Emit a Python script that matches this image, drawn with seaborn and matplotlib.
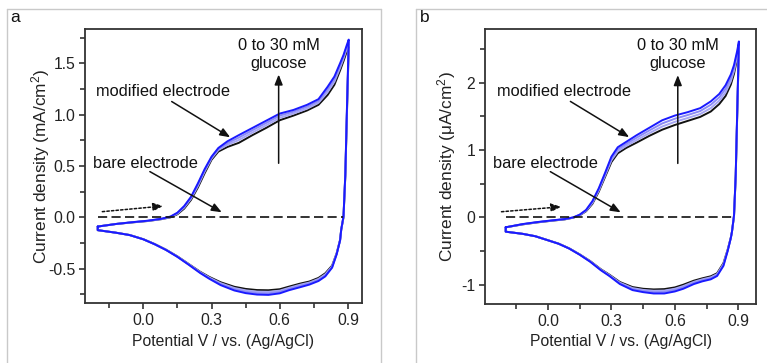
import matplotlib
matplotlib.use("Agg")
import matplotlib.pyplot as plt
from matplotlib.lines import Line2D
from matplotlib.ticker import MultipleLocator, FixedLocator
import seaborn as sns
import pandas as pd

# ---------------- data ----------------
CONCS = ["0 mM", "10 mM", "20 mM", "30 mM"]

FWD_E = [-0.20, -0.12, -0.05, 0.02, 0.08, 0.12, 0.15, 0.18, 0.21, 0.24, 0.27, 0.30, 0.33, 0.37,
         0.42, 0.48, 0.54, 0.60, 0.66, 0.72, 0.77, 0.81, 0.84, 0.865, 0.88, 0.895, 0.903]
REV_E = [0.903, 0.895, 0.888, 0.88, 0.87, 0.865, 0.85, 0.83, 0.80, 0.77, 0.73, 0.69, 0.64, 0.60,
         0.55, 0.50, 0.45, 0.40, 0.34, 0.29, 0.25, 0.20, 0.15, 0.10, 0.05, 0.0, -0.06, -0.12, -0.20]

# panel a (mA/cm2)
A_FWD_0 = [-0.09, -0.065, -0.050, -0.036, -0.018, 0.000, 0.030, 0.085, 0.170, 0.290, 0.430, 0.560, 0.640, 0.685,
           0.725, 0.800, 0.870, 0.945, 0.990, 1.040, 1.095, 1.190, 1.290, 1.430, 1.520, 1.620, 1.660]
A_FWD_10 = [-0.09, -0.065, -0.049, -0.035, -0.017, 0.003, 0.036, 0.095, 0.182, 0.305, 0.447, 0.572, 0.655, 0.705,
            0.752, 0.825, 0.895, 0.968, 1.010, 1.058, 1.115, 1.218, 1.320, 1.455, 1.545, 1.645, 1.690]
A_FWD_20 = [-0.09, -0.065, -0.048, -0.034, -0.015, 0.005, 0.040, 0.102, 0.191, 0.318, 0.458, 0.581, 0.665, 0.722,
            0.776, 0.848, 0.918, 0.990, 1.028, 1.077, 1.133, 1.245, 1.345, 1.478, 1.563, 1.663, 1.710]
A_FWD_30 = [-0.09, -0.065, -0.048, -0.033, -0.014, 0.008, 0.045, 0.110, 0.200, 0.330, 0.470, 0.590, 0.675, 0.740,
            0.800, 0.870, 0.940, 1.010, 1.045, 1.095, 1.150, 1.270, 1.370, 1.500, 1.580, 1.680, 1.730]

A_REV_0 = [1.660, 1.000, 0.400, 0.000, -0.120, -0.220, -0.350, -0.470, -0.545, -0.590, -0.625, -0.645, -0.675, -0.700,
           -0.710, -0.708, -0.697, -0.676, -0.632, -0.580, -0.530, -0.455, -0.380, -0.315, -0.260, -0.213, -0.172, -0.150, -0.125]
A_REV_10 = [1.690, 1.020, 0.410, 0.003, -0.120, -0.222, -0.353, -0.477, -0.555, -0.600, -0.635, -0.656, -0.687, -0.714,
            -0.725, -0.723, -0.711, -0.688, -0.641, -0.586, -0.534, -0.457, -0.382, -0.316, -0.261, -0.213, -0.172, -0.150, -0.125]
A_REV_20 = [1.710, 1.035, 0.415, 0.006, -0.120, -0.224, -0.357, -0.484, -0.565, -0.610, -0.645, -0.668, -0.698, -0.727,
            -0.740, -0.738, -0.725, -0.700, -0.651, -0.592, -0.538, -0.460, -0.384, -0.317, -0.262, -0.214, -0.173, -0.150, -0.125]
A_REV_30 = [1.730, 1.050, 0.420, 0.010, -0.120, -0.225, -0.360, -0.490, -0.575, -0.620, -0.655, -0.680, -0.710, -0.740,
            -0.755, -0.752, -0.738, -0.712, -0.660, -0.598, -0.542, -0.462, -0.385, -0.318, -0.262, -0.214, -0.173, -0.150, -0.125]

# panel b (uA/cm2)
B_FWD_0 = [-0.148, -0.105, -0.075, -0.050, -0.030, -0.005, 0.030, 0.090, 0.200, 0.380, 0.600, 0.820, 0.950, 1.030,
           1.110, 1.210, 1.300, 1.370, 1.430, 1.490, 1.570, 1.680, 1.800, 1.970, 2.130, 2.360, 2.500]
B_FWD_10 = [-0.148, -0.103, -0.073, -0.048, -0.028, -0.003, 0.033, 0.097, 0.213, 0.397, 0.620, 0.847, 0.980, 1.060,
            1.147, 1.250, 1.347, 1.417, 1.473, 1.533, 1.620, 1.730, 1.853, 2.020, 2.173, 2.397, 2.537]
B_FWD_20 = [-0.148, -0.102, -0.072, -0.047, -0.027, -0.002, 0.037, 0.103, 0.227, 0.413, 0.640, 0.873, 1.010, 1.090,
            1.183, 1.290, 1.393, 1.463, 1.517, 1.577, 1.670, 1.780, 1.907, 2.070, 2.217, 2.433, 2.573]
B_FWD_30 = [-0.148, -0.100, -0.070, -0.045, -0.025, 0.000, 0.040, 0.110, 0.240, 0.430, 0.660, 0.900, 1.040, 1.120,
            1.220, 1.330, 1.440, 1.510, 1.560, 1.620, 1.720, 1.830, 1.960, 2.120, 2.260, 2.470, 2.610]

B_REV_0 = [2.500, 1.500, 0.600, 0.020, -0.220, -0.300, -0.480, -0.680, -0.830, -0.875, -0.905, -0.940, -1.000, -1.040,
           -1.065, -1.070, -1.060, -1.035, -0.960, -0.850, -0.770, -0.650, -0.550, -0.460, -0.390, -0.340, -0.280, -0.245, -0.213]
B_REV_10 = [2.537, 1.520, 0.610, 0.023, -0.220, -0.302, -0.487, -0.693, -0.843, -0.890, -0.920, -0.957, -1.020, -1.060,
            -1.087, -1.090, -1.077, -1.050, -0.970, -0.857, -0.775, -0.653, -0.552, -0.461, -0.391, -0.340, -0.280, -0.245, -0.213]
B_REV_20 = [2.573, 1.540, 0.620, 0.027, -0.220, -0.303, -0.493, -0.707, -0.857, -0.905, -0.935, -0.973, -1.040, -1.080,
            -1.108, -1.110, -1.093, -1.065, -0.980, -0.863, -0.780, -0.657, -0.553, -0.462, -0.391, -0.340, -0.280, -0.245, -0.213]
B_REV_30 = [2.610, 1.560, 0.630, 0.030, -0.220, -0.305, -0.500, -0.720, -0.870, -0.920, -0.950, -0.990, -1.060, -1.100,
            -1.130, -1.130, -1.110, -1.080, -0.990, -0.870, -0.785, -0.660, -0.555, -0.463, -0.392, -0.341, -0.281, -0.245, -0.213]

BARE_E = [-0.20, 0.88]
BARE_J = [0.0, 0.0]

X_TICKS = [0.0, 0.3, 0.6, 0.9]
A_Y_TICKS = [-0.5, 0.0, 0.5, 1.0, 1.5]
B_Y_TICKS = [-1, 0, 1, 2]

COLORS = ["#111111", "#a6a6f2", "#8a8af6", "#1a1aff"]

# ---------------- style ----------------
sns.set_theme(style="ticks")
plt.rcParams["font.family"] = ["Liberation Sans", "DejaVu Sans"]
plt.rcParams["mathtext.default"] = "regular"

W, H = 767, 363
fig = plt.figure(figsize=(W / 100, H / 100), dpi=100)
fig.patch.set_facecolor("white")

def fx(px):
    return px / W

def fy(py):
    return 1 - py / H

ax_a = fig.add_axes([fx(85), fy(303.3), (361.7 - 85) / W, (303.3 - 29.3) / H])
ax_b = fig.add_axes([fx(485), fy(304), (756 - 485) / W, (304 - 29.3) / H])

# panel frames
fcol = "#c9c9c9"
for seg in [([7, 7], [H, 9]), ([7, 381], [9, 9]), ([381, 381], [9, H]),
            ([416, 416], [H, 9]), ([416, W], [9, 9])]:
    fig.add_artist(Line2D([fx(v) for v in seg[0]], [fy(v) for v in seg[1]],
                          transform=fig.transFigure, color=fcol, lw=1.0))


def make_df(fwds, revs):
    rows = []
    for c, f, r in zip(CONCS, fwds, revs):
        E = FWD_E + REV_E + [FWD_E[0]]
        J = f + r + [f[0]]
        for i, (e, j) in enumerate(zip(E, J)):
            rows.append({"conc": c, "order": i, "E": e, "J": j})
    return pd.DataFrame(rows)


df_a = make_df([A_FWD_0, A_FWD_10, A_FWD_20, A_FWD_30], [A_REV_0, A_REV_10, A_REV_20, A_REV_30])
df_b = make_df([B_FWD_0, B_FWD_10, B_FWD_20, B_FWD_30], [B_REV_0, B_REV_10, B_REV_20, B_REV_30])

TXT = 11.8
LAB = 11.3


def draw(ax, df, xlim, ylim, yticks, yminor, ylabel, ann, ylab_x, xlab_y):
    sns.lineplot(data=df, x="E", y="J", hue="conc", hue_order=CONCS, palette=COLORS,
                 sort=False, estimator=None, units="conc", legend=False, lw=1.4, ax=ax)
    sns.lineplot(x=BARE_E, y=BARE_J, color="#111111", lw=1.2, ax=ax, linestyle=(0, (5.5, 2.6)))
    ax.set_xlim(*xlim)
    ax.set_ylim(*ylim)
    ax.xaxis.set_major_locator(FixedLocator(X_TICKS))
    ax.xaxis.set_minor_locator(MultipleLocator(0.15))
    ax.yaxis.set_major_locator(FixedLocator(yticks))
    ax.yaxis.set_minor_locator(MultipleLocator(yminor))
    ax.set_xticklabels([f"{v:.1f}" for v in X_TICKS])
    if isinstance(yticks[0], int):
        ax.set_yticklabels([f"{v:d}" for v in yticks])
    else:
        ax.set_yticklabels([f"{v:.1f}" for v in yticks])
    ax.tick_params(which="both", direction="out", top=False, right=False, colors="#222222",
                   labelsize=LAB, width=1.1, pad=3)
    ax.tick_params(which="major", length=4)
    ax.tick_params(which="minor", length=3.5)
    for s in ax.spines.values():
        s.set_visible(True)
        s.set_color("#333333")
        s.set_linewidth(1.3)
    ax.set_xlabel("Potential V / vs. (Ag/AgCl)", fontsize=LAB, color="#222222")
    ax.set_ylabel(ylabel, fontsize=12.4, color="#222222")
    ax.yaxis.set_label_coords(ylab_x, 0.5)
    ax.xaxis.set_label_coords(0.5, xlab_y)
    ax.set_facecolor("white")

    hp = dict(arrowstyle="-|>,head_length=0.5,head_width=0.2", color="#111111", lw=1.1,
              shrinkA=0, shrinkB=0)
    ax.text(ann["glu"][0], ann["glu"][1], "0 to 30 mM\nglucose", ha="center", va="center",
            fontsize=TXT, color="#111111", linespacing=1.25)
    ax.annotate("", xy=ann["varrow"][1], xytext=ann["varrow"][0], arrowprops=hp)
    ax.text(ann["mod"][0], ann["mod"][1], "modified electrode", ha="left", va="center",
            fontsize=TXT, color="#111111")
    ax.annotate("", xy=ann["modarrow"][1], xytext=ann["modarrow"][0], arrowprops=hp)
    ax.text(ann["bare"][0], ann["bare"][1], "bare electrode", ha="left", va="center",
            fontsize=TXT, color="#111111")
    ax.annotate("", xy=ann["barearrow"][1], xytext=ann["barearrow"][0], arrowprops=hp)
    dp = dict(hp)
    dp["linestyle"] = (0, (1.6, 1.4))
    ax.annotate("", xy=ann["dot"][1], xytext=ann["dot"][0], arrowprops=dp)


ann_a = {
    "glu": (0.595, 1.585),
    "varrow": ((0.595, 0.526), (0.595, 1.39)),
    "mod": (-0.206, 1.224),
    "modarrow": ((0.125, 1.127), (0.382, 0.779)),
    "bare": (-0.22, 0.526),
    "barearrow": ((0.029, 0.445), (0.345, 0.049)),
    "dot": ((-0.18, 0.055), (0.088, 0.11)),
}
ann_b = {
    "glu": (0.614, 2.41),
    "varrow": ((0.614, 0.80), (0.614, 2.11)),
    "mod": (-0.243, 1.87),
    "modarrow": ((0.106, 1.72), (0.384, 1.19)),
    "bare": (-0.262, 0.80),
    "barearrow": ((0.011, 0.678), (0.344, 0.074)),
    "dot": ((-0.22, 0.083), (0.063, 0.157)),
}

draw(ax_a, df_a, (-0.256, 0.960), (-0.837, 1.83), A_Y_TICKS, 0.25,
     "Current density (mA/cm$^2$)", ann_a, -0.119, -0.112)
draw(ax_b, df_b, (-0.298, 0.984), (-1.286, 2.79), B_Y_TICKS, 0.5,
     "Current density (\u03bcA/cm$^2$)", ann_b, -0.10, -0.109)

fig.text(fx(10), fy(17), "a", fontsize=12.5, ha="left", va="center", color="#111111")
fig.text(fx(420), fy(17), "b", fontsize=12.5, ha="left", va="center", color="#111111")

fig.savefig("out.png", dpi=100, facecolor="white")
